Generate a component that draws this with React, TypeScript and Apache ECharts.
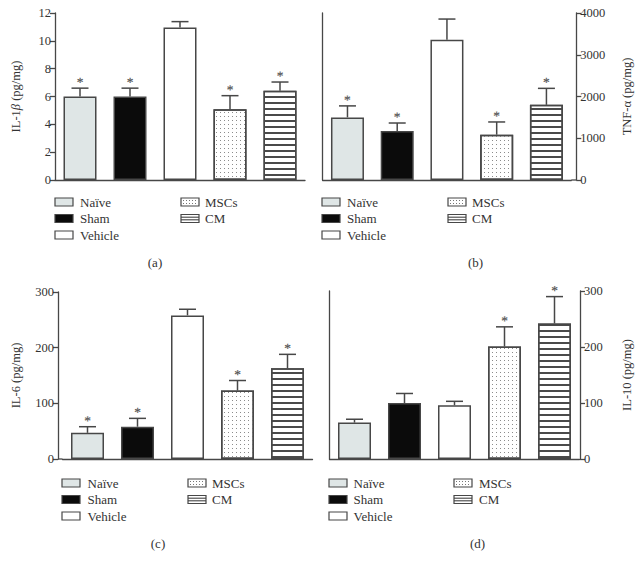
import React, { useEffect, useRef } from 'react';
import * as echarts from 'echarts';

const categories = ['Naïve', 'Sham', 'Vehicle', 'MSCs', 'CM'];

const il1bMean = [6.0, 6.0, 10.95, 5.08, 6.42];
const il1bUpper = [6.6, 6.6, 11.38, 6.06, 7.04];
const il1bStars = [1, 1, 0, 1, 1];
const il1bAxis = [0, 12, 2];

const tnfMean = [1500, 1175, 3360, 1085, 1800];
const tnfUpper = [1775, 1365, 3855, 1390, 2195];
const tnfStars = [1, 1, 0, 1, 1];
const tnfAxis = [0, 4000, 1000];

const il6Mean = [47, 58, 258, 123, 163];
const il6Upper = [58, 73, 269, 141, 188];
const il6Stars = [1, 1, 0, 1, 1];
const il6Axis = [0, 300, 100];

const il10Mean = [65, 100, 96, 201, 242];
const il10Upper = [71, 117, 103, 236, 290];
const il10Stars = [0, 0, 0, 1, 1];
const il10Axis = [0, 300, 100];

const panelLetters = ['(a)', '(b)', '(c)', '(d)'];

const SERIF = '"Liberation Serif", "Times New Roman", serif';
const INK = '#333';
const LINE = '#474747';

const dotDecal = {
  symbol: 'rect',
  symbolSize: 1,
  dashArrayX: [1, 3],
  dashArrayY: [1, 3],
  rotation: 0,
  color: '#8c8c8c',
};
const stripeDecal = {
  symbol: 'rect',
  symbolSize: 1,
  dashArrayX: [1, 0],
  dashArrayY: [1.2, 3.6],
  rotation: 0,
  color: '#4a4a4a',
};

const barStyles = [
  { color: '#dfe6e6' },
  { color: '#0b0b0b' },
  { color: '#ffffff' },
  { color: '#ffffff', decal: dotDecal },
  { color: '#ffffff', decal: stripeDecal },
];

const panels = [
  {
    mean: il1bMean, upper: il1bUpper, stars: il1bStars, axis: il1bAxis,
    name: 'IL-1{i|β} (pg/mg)', side: 'left',
    grid: { left: 55, top: 13, width: 250, height: 167 }, offset: 0,
    nameX: 15.5, legendX: [55, 80, 181, 205], legendY: [202, 218.5, 235], letter: [155, 262],
  },
  {
    mean: tnfMean, upper: tnfUpper, stars: tnfStars, axis: tnfAxis,
    name: 'TNF-α (pg/mg)', side: 'right',
    grid: { left: 322.6, top: 13, width: 248.7, height: 167 }, offset: 5,
    nameX: 627, legendX: [322, 347, 448, 472], legendY: [202, 218.5, 235], letter: [475.5, 262],
  },
  {
    mean: il6Mean, upper: il6Upper, stars: il6Stars, axis: il6Axis,
    name: 'IL-6 (pg/mg)', side: 'left',
    grid: { left: 62.5, top: 292, width: 250, height: 167 }, offset: 4.5,
    nameX: 16, legendX: [62, 87.5, 188, 212], legendY: [483, 499.5, 516], letter: [158, 543],
  },
  {
    mean: il10Mean, upper: il10Upper, stars: il10Stars, axis: il10Axis,
    name: 'IL-10 (pg/mg)', side: 'right',
    grid: { left: 329.5, top: 291, width: 250, height: 168 }, offset: 0.5,
    nameX: 627, legendX: [329, 353.5, 454, 479], legendY: [483, 499.5, 516], letter: [477.5, 543],
  },
];

function swatch(k: number, x: number, yc: number): any[] {
  const w = 18, h = 8, y = yc - h / 2;
  const fills = ['#dfe6e6', '#0b0b0b', '#ffffff', '#ffffff', '#ffffff'];
  const els: any[] = [
    { type: 'rect', shape: { x, y, width: w, height: h }, style: { fill: fills[k], stroke: LINE, lineWidth: 1.2 } },
  ];
  if (k === 3) {
    for (let r = 0; r < 2; r++) {
      for (let c = 0; c < 5; c++) {
        els.push({ type: 'rect', shape: { x: Math.round(x + 2 + c * 3), y: Math.round(y + 2 + r * 3), width: 1, height: 1 }, style: { fill: '#777' } });
      }
    }
  }
  if (k === 4) {
    els.push({ type: 'line', shape: { x1: x, y1: y + 2.7, x2: x + w, y2: y + 2.7 }, style: { stroke: '#444', lineWidth: 1.1 } });
    els.push({ type: 'line', shape: { x1: x, y1: y + 5.3, x2: x + w, y2: y + 5.3 }, style: { stroke: '#444', lineWidth: 1.1 } });
  }
  return els;
}

export default function App() {
  const ref = useRef<HTMLDivElement>(null);
  useEffect(() => {
    if (!ref.current) return;
    const chart = echarts.init(ref.current, null, { renderer: 'svg' });

    const grids: any[] = [];
    const xAxes: any[] = [];
    const yAxes: any[] = [];
    const series: any[] = [];
    const graphics: any[] = [];

    panels.forEach((p, i) => {
      grids.push({ ...p.grid, containLabel: false });
      xAxes.push({
        type: 'category', gridIndex: i, data: categories,
        axisLine: { show: true, lineStyle: { color: LINE, width: 1.3 } },
        axisTick: { show: false }, axisLabel: { show: false }, splitLine: { show: false },
      });
      const mainIdx = yAxes.length;
      yAxes.push({
        type: 'value', gridIndex: i, position: p.side, offset: p.offset,
        min: p.axis[0], max: p.axis[1], interval: p.axis[2],
        axisLine: { show: true, lineStyle: { color: LINE, width: 1.3 } },
        axisTick: { show: true, length: 5, lineStyle: { color: LINE, width: 1.3 } },
        axisLabel: {
          color: INK, fontFamily: SERIF, fontSize: 12.5, margin: 4,
          formatter: (v: number) => String(v),
        },
        splitLine: { show: false },
      });
      if (p.side === 'right') {
        yAxes.push({
          type: 'value', gridIndex: i, position: 'left',
          min: p.axis[0], max: p.axis[1], interval: p.axis[2],
          axisLine: { show: true, lineStyle: { color: LINE, width: 1.3 } },
          axisTick: { show: false }, axisLabel: { show: false }, splitLine: { show: false },
        });
      }
      series.push({
        type: 'bar', xAxisIndex: i, yAxisIndex: mainIdx, barWidth: 33,
        data: p.mean.map((v, k) => ({
          value: v,
          itemStyle: { ...barStyles[k], borderColor: LINE, borderWidth: 1.5 },
        })),
      });
      series.push({
        type: 'custom', xAxisIndex: i, yAxisIndex: mainIdx, z: 5,
        itemStyle: { color: '#555' },
        encode: { x: 0, y: [1, 2] },
        data: p.mean.map((v, k) => [k, v, p.upper[k], p.stars[k]]),
        renderItem: (params: any, api: any) => {
          const idx = api.value(0);
          const p0 = api.coord([idx, api.value(1)]);
          const p1 = api.coord([idx, api.value(2)]);
          const st = { stroke: LINE, lineWidth: 1.5 };
          const children: any[] = [
            { type: 'line', shape: { x1: p0[0], y1: p0[1], x2: p1[0], y2: p1[1] }, style: st },
            { type: 'line', shape: { x1: p1[0] - 8.5, y1: p1[1], x2: p1[0] + 8.5, y2: p1[1] }, style: st },
          ];
          if (api.value(3)) {
            children.push({
              type: 'text', x: p1[0], y: p1[1] - 6, rotation: 0.002,
              style: {
                text: '*', fill: '#555', fontSize: 13.5, fontFamily: SERIF,
                align: 'center', verticalAlign: 'middle',
                stroke: '#555', lineWidth: 0.2,
              },
            });
          }
          return { type: 'group', children };
        },
      });

      const g = p.grid;
      graphics.push({
        type: 'text', x: p.nameX, y: g.top + g.height / 2, rotation: Math.PI / 2,
        style: {
          text: p.name, fill: INK, fontFamily: SERIF, fontSize: 12.5,
          align: 'center', verticalAlign: 'middle',
          rich: { i: { fontStyle: 'italic', fontFamily: SERIF, fontSize: 12.5, fill: INK } },
        },
      });
      if (p.offset > 1) {
        const yb = g.top + g.height;
        const xa = p.side === 'left' ? g.left - p.offset : g.left + g.width;
        const xb = p.side === 'left' ? g.left : g.left + g.width + p.offset;
        graphics.push({ type: 'line', shape: { x1: xa, y1: yb, x2: xb, y2: yb }, style: { stroke: LINE, lineWidth: 1.3 } });
      }
      categories.forEach((c, k) => {
        const col = k < 3 ? 0 : 1;
        const row = k < 3 ? k : k - 3;
        const sx = p.legendX[col * 2];
        const tx = p.legendX[col * 2 + 1];
        const yc = p.legendY[row];
        graphics.push(...swatch(k, sx, yc));
        graphics.push({
          type: 'text', x: tx, y: yc,
          style: { text: c, fill: INK, fontFamily: SERIF, fontSize: 13, align: 'left', verticalAlign: 'middle' },
        });
      });
      graphics.push({
        type: 'text', x: p.letter[0], y: p.letter[1],
        style: { text: panelLetters[i], fill: INK, fontFamily: SERIF, fontSize: 13, align: 'center', verticalAlign: 'middle' },
      });
    });

    chart.setOption({
      animation: false,
      backgroundColor: '#ffffff',
      grid: grids,
      xAxis: xAxes,
      yAxis: yAxes,
      series,
      graphic: graphics,
    });
    return () => chart.dispose();
  }, []);
  return <div ref={ref} style={{ position: 'absolute', left: 0, top: 0, width: 640, height: 566 }} />;
}
